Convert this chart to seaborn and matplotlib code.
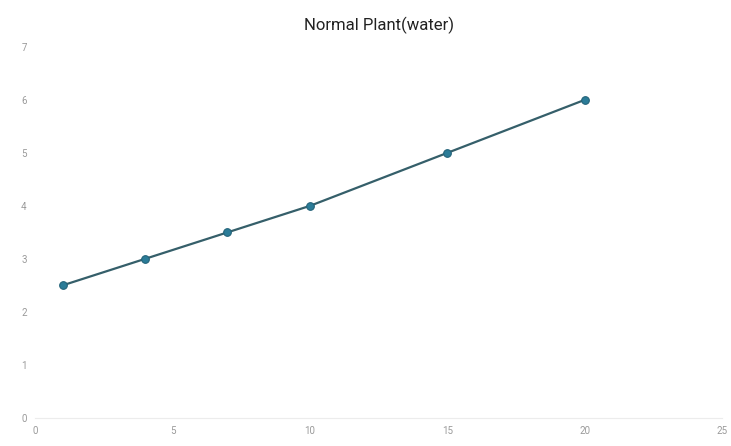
import matplotlib
matplotlib.use("Agg")
import matplotlib.pyplot as plt
import seaborn as sns
import pandas as pd

# values
days = [1, 4, 7, 10, 15, 20]
height = [2.5, 3.0, 3.5, 4.0, 5.0, 6.0]
x_ticks = [0, 5, 10, 15, 20, 25]
y_ticks = [0, 1, 2, 3, 4, 5, 6, 7]

df = pd.DataFrame({"day": days, "height": height})

sns.set_style("white")
plt.rcParams['font.family'] = ['Roboto', 'DejaVu Sans']

fig = plt.figure(figsize=(7.31, 4.46), dpi=100)
ax = fig.add_axes([0.048, 0.063, 0.94, 0.832])

sns.lineplot(data=df, x="day", y="height", ax=ax, color="#355f6a", linewidth=1.6,
             marker="o", markersize=5.5, markerfacecolor="#2b7c98",
             markeredgecolor="#24637a", markeredgewidth=0.8)

ax.set_xlim(0, 25)
ax.set_ylim(0, 7)
ax.set_xticks(x_ticks)
ax.set_yticks(y_ticks)
ax.tick_params(axis="both", length=0, labelsize=7, labelcolor="#9a9a9a", pad=6)
ax.set_xlabel("")
ax.set_ylabel("")
for side in ["top", "right", "left"]:
    ax.spines[side].set_visible(False)
ax.spines["bottom"].set_color("#ececec")
ax.spines["bottom"].set_linewidth(0.8)
ax.set_title("Normal Plant(water)", fontsize=12, color="#222222", pad=12)

fig.savefig("out.png", dpi=100)
